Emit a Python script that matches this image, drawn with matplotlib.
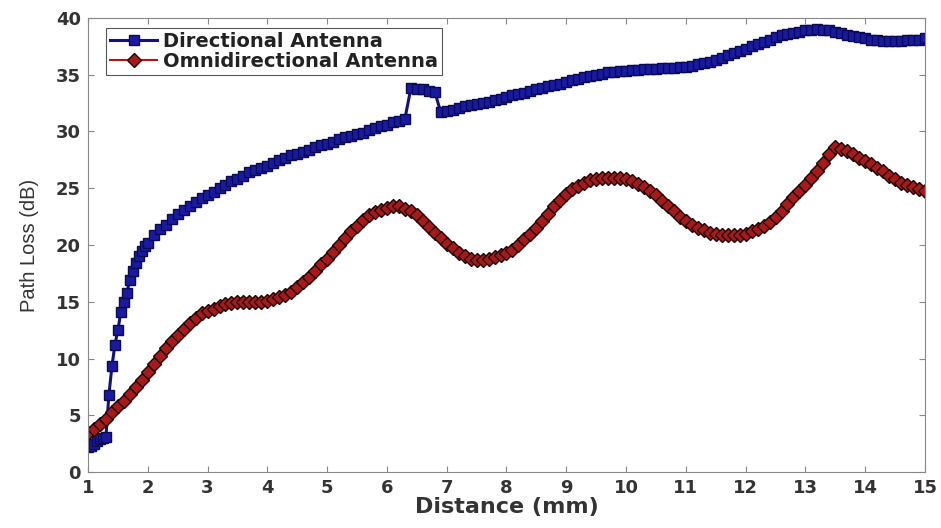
import matplotlib
matplotlib.use('Agg')
import matplotlib.pyplot as plt
import numpy as np

plt.rcParams['font.family'] = ['DejaVu Sans']

# distance grids (mm)
dist_dir = np.round(np.r_[np.arange(1.0, 2.0, 0.05), np.arange(2.0, 15.05, 0.1)], 2)
dist_omni = np.round(np.arange(1.0, 15.05, 0.1), 2)

# path loss of the directional antenna (dB)
loss_dir = [
    2.2, 2.3, 2.5, 2.7, 2.9, 3.0, 3.1, 6.8, 9.3, 11.2,
    12.5, 14.1, 15.0, 15.8, 16.9, 17.7, 18.4, 19.0, 19.5, 19.9,
    20.2, 20.9, 21.4, 21.8, 22.3, 22.7, 23.1, 23.4, 23.8, 24.1,
    24.4, 24.7, 25.0, 25.3, 25.6, 25.8, 26.1, 26.4, 26.6, 26.8,
    27.0, 27.2, 27.5, 27.7, 27.9, 28.0, 28.2, 28.4, 28.6, 28.8,
    28.9, 29.1, 29.3, 29.5, 29.6, 29.8, 29.9, 30.1, 30.3, 30.5,
    30.6, 30.8, 30.9, 31.1, 33.8, 33.7, 33.7, 33.6, 33.5, 31.7,
    31.8, 31.9, 32.1, 32.2, 32.3, 32.4, 32.5, 32.6, 32.8, 32.9,
    33.0, 33.2, 33.3, 33.4, 33.6, 33.7, 33.8, 34.0, 34.1, 34.2,
    34.4, 34.5, 34.6, 34.8, 34.9, 35.0, 35.1, 35.2, 35.2, 35.3,
    35.3, 35.4, 35.4, 35.5, 35.5, 35.5, 35.6, 35.6, 35.6, 35.7,
    35.7, 35.8, 35.9, 36.0, 36.1, 36.3, 36.5, 36.7, 36.9, 37.1,
    37.3, 37.5, 37.7, 37.9, 38.1, 38.3, 38.5, 38.6, 38.7, 38.8,
    38.9, 38.9, 39.0, 38.9, 38.9, 38.8, 38.7, 38.5, 38.4, 38.3,
    38.2, 38.1, 38.1, 38.0, 38.0, 38.0, 38.0, 38.1, 38.1, 38.1,
    38.2,
]

# path loss of the omnidirectional antenna (dB)
loss_omni = [
    3.4, 3.8, 4.2, 4.7, 5.3, 5.8, 6.3, 6.9, 7.5, 8.1,
    8.8, 9.5, 10.2, 10.9, 11.5, 12.1, 12.6, 13.1, 13.6, 14.0,
    14.2, 14.4, 14.6, 14.8, 14.9, 15.0, 15.0, 15.0, 15.0, 15.0,
    15.1, 15.2, 15.4, 15.6, 15.9, 16.3, 16.7, 17.2, 17.7, 18.3,
    18.8, 19.4, 20.0, 20.6, 21.2, 21.7, 22.2, 22.6, 22.9, 23.1,
    23.3, 23.4, 23.4, 23.2, 23.0, 22.6, 22.1, 21.6, 21.1, 20.6,
    20.1, 19.7, 19.3, 19.0, 18.8, 18.7, 18.7, 18.8, 18.9, 19.1,
    19.3, 19.6, 20.0, 20.5, 21.0, 21.5, 22.1, 22.7, 23.4, 24.0,
    24.5, 24.9, 25.2, 25.5, 25.7, 25.8, 25.9, 25.9, 25.9, 25.9,
    25.8, 25.6, 25.4, 25.1, 24.8, 24.4, 23.9, 23.4, 23.0, 22.5,
    22.1, 21.8, 21.5, 21.3, 21.1, 21.0, 20.9, 20.9, 20.9, 20.9,
    21.0, 21.2, 21.4, 21.7, 22.0, 22.5, 23.0, 23.6, 24.2, 24.8,
    25.3, 25.9, 26.5, 27.2, 28.0, 28.6, 28.5, 28.3, 28.0, 27.7,
    27.4, 27.1, 26.8, 26.5, 26.1, 25.8, 25.5, 25.3, 25.1, 24.9,
    24.8,
]

x_ticks = list(range(1, 16))
y_ticks = list(range(0, 41, 5))

fig = plt.figure(figsize=(9.41, 5.28), dpi=100)
ax = fig.add_axes([0.0935, 0.106, 0.8895, 0.86])

ax.plot(dist_dir, loss_dir, color='#12127e', lw=2.2, marker='s', ms=7,
        mfc='#1a1aa0', mec='#0a0a55', mew=1.0, label='Directional Antenna')
ax.plot(dist_omni, loss_omni, color='#a81818', lw=1.5, marker='D', ms=7,
        mfc='#a81a1a', mec='#200303', mew=1.0, label='Omnidirectional Antenna')

ax.set_xlim(1, 15)
ax.set_ylim(0, 40)
ax.set_xticks(x_ticks)
ax.set_yticks(y_ticks)
ax.tick_params(direction='in', length=4, top=True, right=True,
               labelsize=13, labelcolor='#333333', color='#888888', pad=5)
for lab in ax.get_xticklabels() + ax.get_yticklabels():
    lab.set_fontweight('bold')
for s in ax.spines.values():
    s.set_color('#888888')
    s.set_linewidth(0.8)

ax.set_xlabel('Distance (mm)', fontsize=16, fontweight='bold', color='#333333', labelpad=0)
ax.set_ylabel('Path Loss (dB)', fontsize=14.5, color='#333333', labelpad=12,
              family=['Liberation Sans', 'DejaVu Sans'])

leg = ax.legend(loc='upper left', bbox_to_anchor=(0.022, 0.978), borderaxespad=0,
                fancybox=False, edgecolor='#555555', framealpha=1, borderpad=0.2,
                labelspacing=0.05, handlelength=2.4, handletextpad=0.3,
                prop={'size': 14, 'weight': 'bold'})
leg.get_frame().set_linewidth(0.8)
for t in leg.get_texts():
    t.set_color('#222222')

fig.savefig('out.png', dpi=100)
